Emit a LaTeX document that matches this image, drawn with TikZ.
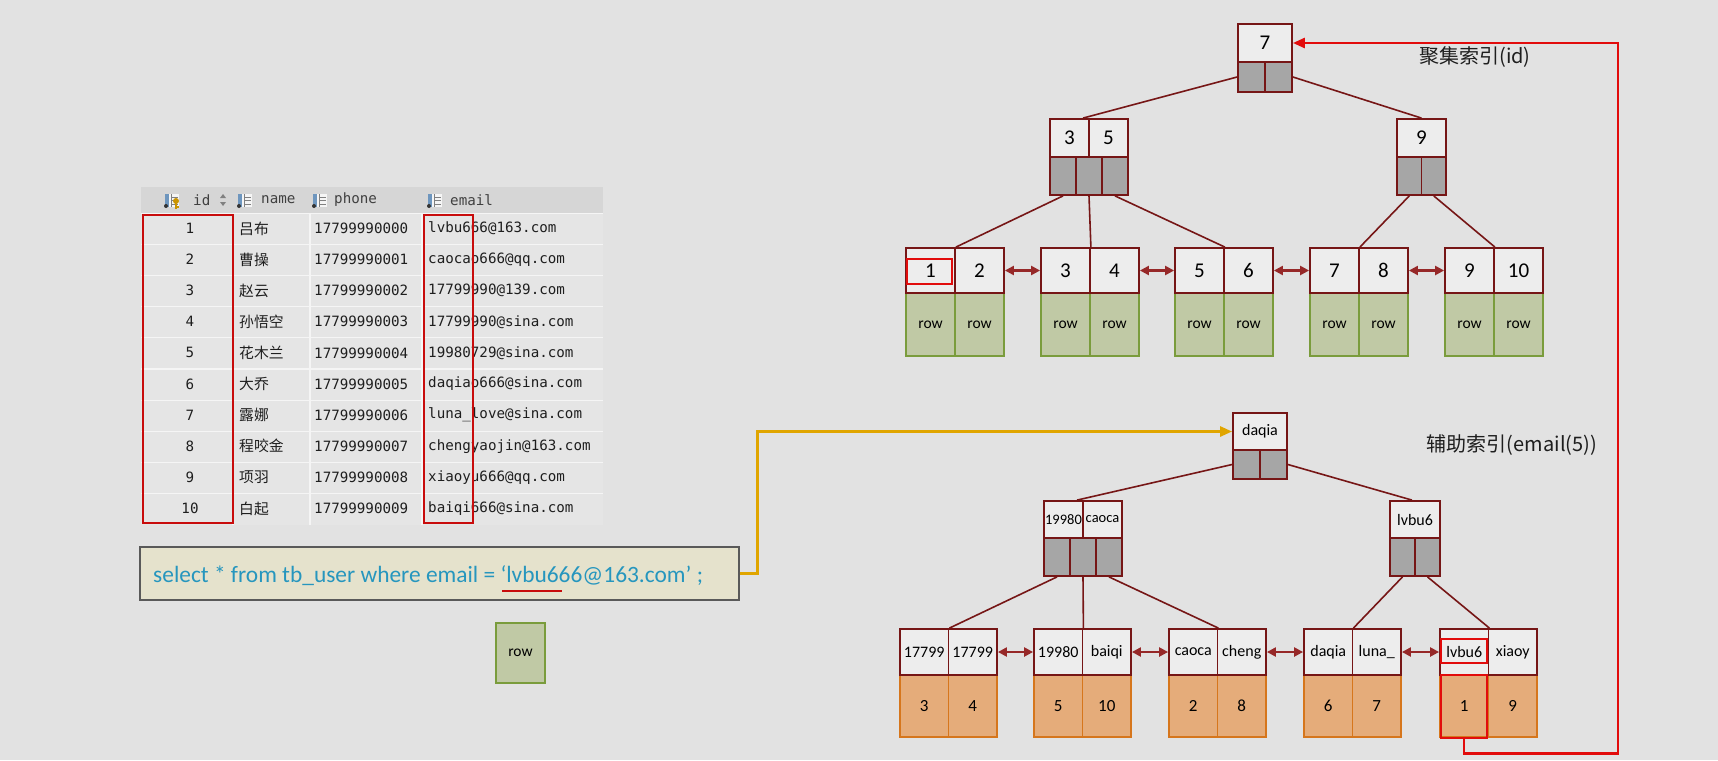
\documentclass[tikz,border=0pt]{standalone}
\usepackage{fontspec}
\setmainfont{Carlito}
\newfontfamily\cjk{Noto Sans CJK SC}
\newfontfamily\mono{DejaVu Sans Mono}
\usetikzlibrary{arrows.meta,calc}
\definecolor{bg}{RGB}{226,226,226}
\definecolor{maroon}{RGB}{118,22,22}
\definecolor{linkc}{RGB}{150,40,40}
\definecolor{keyfill}{RGB}{237,237,237}
\definecolor{ptrfill}{RGB}{166,166,166}
\definecolor{greenfill}{RGB}{192,201,165}
\definecolor{greenline}{RGB}{122,156,60}
\definecolor{orfill}{RGB}{229,172,122}
\definecolor{orline}{RGB}{214,118,28}
\definecolor{hired}{RGB}{226,12,12}
\definecolor{tblred}{RGB}{200,12,12}
\definecolor{gold}{RGB}{224,165,0}
\definecolor{sqlc}{RGB}{38,150,190}
\definecolor{sqlfill}{RGB}{229,226,204}
\definecolor{hdrfill}{RGB}{214,214,214}
\definecolor{tblfill}{RGB}{229,229,229}
\definecolor{tblline}{RGB}{245,245,245}
\definecolor{iconblue}{RGB}{110,150,190}
\definecolor{txt}{RGB}{30,30,30}
\tikzset{
  keyc/.style={draw=maroon, fill=keyfill, line width=1.8pt, inner sep=0pt, text=black},
  ptrc/.style={draw=maroon, fill=ptrfill, line width=1.8pt, inner sep=0pt},
  rowc/.style={draw=greenline, fill=greenfill, line width=1.8pt, inner sep=0pt, font=\fontsize{15.5}{16}\selectfont},
  valc/.style={draw=orline, fill=orfill, line width=1.8pt, inner sep=0pt, font=\fontsize{17}{18}\selectfont},
  link/.style={draw=maroon, line width=1.6pt},
  sib/.style={draw=linkc, line width=2.2pt, {Triangle[length=9pt,width=9pt]}-{Triangle[length=9pt,width=9pt]}},
  hilite/.style={draw=hired, line width=2.6pt, inner sep=0pt},
  tblhl/.style={draw=tblred, line width=2.8pt, inner sep=0pt},
  bigk/.style={font=\fontsize{21}{22}\selectfont},
  midk/.style={font=\fontsize{16}{17}\selectfont},
  smallk/.style={font=\fontsize{14.5}{15}\selectfont},
  celltxt/.style={inner sep=0pt, text=txt, font=\mono\fontsize{14.2}{15}\selectfont},
  hdrtxt/.style={inner sep=0pt, text=txt!85, font=\mono\fontsize{14.2}{15}\selectfont, anchor=west},
  lbl/.style={inner sep=0pt, text=txt, font=\cjk\fontsize{20}{22}\selectfont},
}
% top leaf: name, left x, key1, key2
\newcommand{\topleaf}[4]{%
  \node[rowc, minimum width=49, minimum height=63] (#1r1) at (#2+24.5,324.5) {row};
  \node[rowc, minimum width=49, minimum height=63] (#1r2) at (#2+73.5,324.5) {row};
  \node[keyc, bigk, minimum width=49, minimum height=45] (#1k1) at (#2+24.5,270.5) {#3};
  \node[keyc, bigk, minimum width=49, minimum height=45] (#1k2) at (#2+73.5,270.5) {#4};
}
% bottom leaf: name, left x, key1, key2, val1, val2
\newcommand{\botleaf}[6]{%
  \node[valc, minimum width=48.5, minimum height=62] (#1r1) at (#2+24.25,706) {#5};
  \node[valc, minimum width=48.5, minimum height=62] (#1r2) at (#2+72.75,706) {#6};
  \node[keyc, midk, minimum width=48.5, minimum height=46] (#1k1) at (#2+24.25,652) {#3};
  \node[keyc, midk, minimum width=48.5, minimum height=46] (#1k2) at (#2+72.75,652) {#4};
}
\newcommand{\colicon}[1]{%
  \fill[white!92!gray] (#1-7,194) rectangle (#1+7,207);
  \fill[iconblue] (#1-7,194) rectangle (#1-3,207);
  \draw[gray, line width=0.8pt] (#1-1,197) -- (#1+6,197) (#1-1,200.5) -- (#1+6,200.5) (#1-1,204) -- (#1+6,204) (#1-1,194) -- (#1-1,207);
  \fill[black!80] (#1-6,206) circle (2);
}
\begin{document}
\begin{tikzpicture}[x=1pt,y=-1pt]
\useasboundingbox (0,0) rectangle (1718,760);
\fill[bg] (0,0) rectangle (1718,760);

% ---------------- table ----------------
\fill[hdrfill] (141,187) rectangle (603,213);
\fill[tblfill] (141,213) rectangle (603,525);
\foreach \i in {1,...,9} \draw[tblline, line width=1.2pt] (141,213+31.2*\i) -- (603,213+31.2*\i);
\foreach \x in {233,310,422} \draw[tblline, line width=1.5pt] (\x,213) -- (\x,525);
\draw[tblline, line width=1pt] (141,213) -- (603,213);
\colicon{172}
\fill[gold!90!black] (176,201) circle (3);
\draw[gold!90!black, line width=1.3pt] (176,203) -- (176,209) (176,207) -- (179,207);
\colicon{245}
\colicon{320}
\colicon{435}
\fill[gray] (220,198) -- (226,198) -- (223,194) -- cycle;
\fill[gray] (220,202) -- (226,202) -- (223,206) -- cycle;
\node[hdrtxt] (hid) at (193,200) {id};
\node[hdrtxt] (hname) at (261,200) {name};
\node[hdrtxt] (hphone) at (334,200) {phone};
\node[hdrtxt] (hemail) at (450,200) {email};
\foreach \i/\nm/\ph/\em in {
  1/吕布/17799990000/lvbu666@163.com,
  2/曹操/17799990001/caocao666@qq.com,
  3/赵云/17799990002/17799990@139.com,
  4/孙悟空/17799990003/17799990@sina.com,
  5/花木兰/17799990004/19980729@sina.com,
  6/大乔/17799990005/daqiao666@sina.com,
  7/露娜/17799990006/luna\_love@sina.com,
  8/程咬金/17799990007/chengyaojin@163.com,
  9/项羽/17799990008/xiaoyu666@qq.com,
  10/白起/17799990009/baiqi666@sina.com}{
  \node[celltxt] (id\i) at (190,228.5+31.1*\i-31.1) {\i};
  \node[inner sep=0pt, text=txt, font=\cjk\fontsize{14.8}{15}\selectfont, anchor=west] (nm\i) at (239,228.5+31.1*\i-31.1) {\nm};
  \node[celltxt, anchor=west] (ph\i) at (314,228.5+31.1*\i-31.1) {\ph};
  \node[celltxt, anchor=west] (em\i) at (428,228.5+31.1*\i-31.1) {\em};
}
\node[tblhl, minimum width=90, minimum height=308] (idbox) at (188,369) {};
\node[tblhl, minimum width=49, minimum height=308] (embox) at (448.5,369) {};

% ---------------- SQL ----------------
\node[draw=black!65, fill=sqlfill, line width=1.2pt, minimum width=599, minimum height=53, inner sep=0pt] (sql) at (439.5,573.5) {};
\node[inner sep=0pt, anchor=base west, text=sqlc, font=\fontsize{23.4}{26}\selectfont] (sqltext) at (153,582) {select * from tb\_user where email = ‘lvbu666@163.com’ ;};
\draw[tblred, line width=2.6pt] (502,591) -- (562,591);
\node[rowc, minimum width=49, minimum height=60] (rowx) at (520.5,653) {row};

% ---------------- clustered index ----------------
\node[keyc, bigk, minimum width=54, minimum height=38] (t0k) at (1265,43) {7};
\node[ptrc, minimum width=27, minimum height=30] (t0p1) at (1251.5,77) {};
\node[ptrc, minimum width=27, minimum height=30] (t0p2) at (1278.5,77) {};

\node[keyc, bigk, minimum width=39, minimum height=38] (t1k1) at (1069.5,138) {3};
\node[keyc, bigk, minimum width=39, minimum height=38] (t1k2) at (1108.5,138) {5};
\node[ptrc, minimum width=26, minimum height=38] (t1p1) at (1063,176) {};
\node[ptrc, minimum width=26, minimum height=38] (t1p2) at (1089,176) {};
\node[ptrc, minimum width=26, minimum height=38] (t1p3) at (1115,176) {};

\node[keyc, bigk, minimum width=49, minimum height=38] (t2k) at (1421.5,138) {9};
\node[ptrc, minimum width=24.5, minimum height=38] (t2p1) at (1409.25,176) {};
\node[ptrc, minimum width=24.5, minimum height=38] (t2p2) at (1433.75,176) {};

\topleaf{A}{906}{1}{2}
\topleaf{B}{1041}{3}{4}
\topleaf{C}{1175}{5}{6}
\topleaf{D}{1310}{7}{8}
\topleaf{E}{1445}{9}{10}

\draw[link] (t0p1.west) -- ([xshift=13.5pt]t1k1.north);
\draw[link] (t0p2.east) -- (t2k.north);
\draw[link] (t1p1.south) -- (Ak1.north east);
\draw[link] (t1p2.south) -- (Bk1.north east);
\draw[link] (t1p3.south) -- (Ck1.north east);
\draw[link] (t2p1.south) -- (Dk1.north east);
\draw[link] (t2p2.south) -- (Ek1.north east);
\draw[sib] (Ak2.east) -- (Bk1.west);
\draw[sib] (Bk2.east) -- (Ck1.west);
\draw[sib] (Ck2.east) -- (Dk1.west);
\draw[sib] (Dk2.east) -- (Ek1.west);
\node[hilite, minimum width=45, minimum height=25] (hlA) at (929.5,271.5) {};
\node[lbl] (lab1) at (1475,57) {聚集索引(id)};

% ---------------- secondary index ----------------
\node[keyc, midk, minimum width=54, minimum height=37] (b0k) at (1260,431.5) {daqia};
\node[ptrc, minimum width=27, minimum height=29] (b0p1) at (1246.5,464.5) {};
\node[ptrc, minimum width=27, minimum height=29] (b0p2) at (1273.5,464.5) {};

\node[keyc, smallk, minimum width=39, minimum height=37] (b1k1) at (1063.5,519.5) {19980};
\node[keyc, smallk, minimum width=39, minimum height=37] (b1k2) at (1102.5,519.5) {caoca};
\node[ptrc, minimum width=26, minimum height=38] (b1p1) at (1057,557) {};
\node[ptrc, minimum width=26, minimum height=38] (b1p2) at (1083,557) {};
\node[ptrc, minimum width=26, minimum height=38] (b1p3) at (1109,557) {};

\node[keyc, midk, minimum width=50, minimum height=37] (b2k) at (1415,519.5) {lvbu6};
\node[ptrc, minimum width=25, minimum height=38] (b2p1) at (1402.5,557) {};
\node[ptrc, minimum width=25, minimum height=38] (b2p2) at (1427.5,557) {};

\botleaf{P}{900}{17799}{17799}{3}{4}
\botleaf{Q}{1034}{19980}{baiqi}{5}{10}
\botleaf{R}{1169}{caoca}{cheng}{2}{8}
\botleaf{S}{1304}{daqia}{luna\_}{6}{7}
\botleaf{T}{1440}{lvbu6}{xiaoy}{1}{9}

\draw[link] (b0p1.west) -- ([xshift=13.5pt]b1k1.north);
\draw[link] (b0p2.east) -- ([xshift=-3pt]b2k.north);
\draw[link] (b1p1.south) -- (Pk1.north east);
\draw[link] (b1p2.south) -- (Qk1.north east);
\draw[link] (b1p3.south) -- (Rk1.north east);
\draw[link] (b2p1.south) -- (Sk1.north east);
\draw[link] (b2p2.south) -- (Tk1.north east);
\draw[sib] (Pk2.east) -- (Qk1.west);
\draw[sib] (Qk2.east) -- (Rk1.west);
\draw[sib] (Rk2.east) -- (Sk1.west);
\draw[sib] (Sk2.east) -- (Tk1.west);
\node[hilite, minimum width=46, minimum height=24] (hlT) at (1464,651) {};
\node[hilite, minimum width=46, minimum height=63] (hlV) at (1464,706.5) {};
\node[lbl] (lab2) at (1512,445) {辅助索引(email(5))};

% ---------------- connectors ----------------
\coordinate (rc) at (1618,43);
\draw[hired, line width=2.6pt, -{Triangle[length=12pt,width=10pt]}] (hlV.south) -- ++(0,14) -| (rc) -- (t0k.east);
\draw[gold, line width=2.6pt, -{Triangle[length=12pt,width=10pt]}] (sql.east) -- ++(18,0) |- (b0k.west);
\end{tikzpicture}
\end{document}
